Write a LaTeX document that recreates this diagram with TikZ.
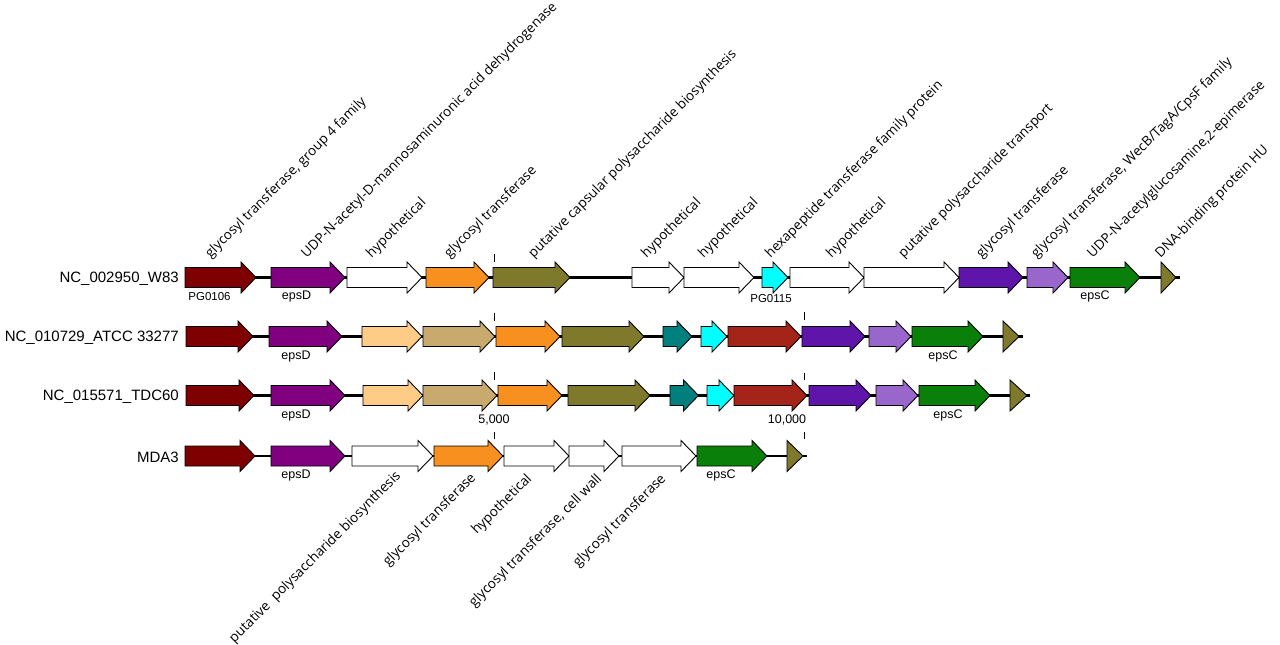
\documentclass[tikz,border=0pt]{standalone}
\usepackage{fontspec}
\setmainfont{Liberation Sans}
\newfontfamily\gfont{Open Sans}
\definecolor{cMaroon}{HTML}{7F0000}
\definecolor{cPurple}{HTML}{800080}
\definecolor{cOrange}{HTML}{F7901E}
\definecolor{cOlive}{HTML}{7F7A2B}
\definecolor{cCyan}{HTML}{00FFFF}
\definecolor{cTeal}{HTML}{007F7F}
\definecolor{cBrick}{HTML}{A5241A}
\definecolor{cDkPurple}{HTML}{5F14AA}
\definecolor{cLtPurple}{HTML}{9966CC}
\definecolor{cGreen}{HTML}{0A7F0A}
\definecolor{cPeach}{HTML}{FFCC88}
\definecolor{cTan}{HTML}{C8AA6E}
% gene arrow: x1, x2, y, colour
\newcommand\gn[4]{%
  \pgfmathsetmacro\hs{max(#1,#2-15)}%
  \draw[gene, fill=#4] (#1,#3-10) -- (\hs,#3-10) -- (\hs,#3-15.5) -- (#2,#3)
     -- (\hs,#3+15.5) -- (\hs,#3+10) -- (#1,#3+10) -- cycle;}
% triangle: x1, x2, y, colour
\newcommand\gtri[4]{%
  \draw[gene, fill=#4] (#1,#3-15.5) -- (#2,#3) -- (#1,#3+15.5) -- cycle;}
\begin{document}
\begin{tikzpicture}[x=1pt,y=-1pt,
  gene/.style={draw=black, line width=0.9pt, line join=miter},
  backbone/.style={line width=2.6pt},
  tickline/.style={line width=1pt},
  rowlabel/.style={anchor=east, inner sep=0pt, font=\fontsize{15}{18}\selectfont},
  small/.style={inner sep=0pt, font=\fontsize{12.5}{15}\selectfont},
  smaller/.style={inner sep=0pt, font=\fontsize{11.5}{14}\selectfont},
  toplab/.style={anchor=south west, rotate=45, inner sep=0pt, font=\gfont\fontsize{13.5}{16}\selectfont},
  botlab/.style={anchor=north east, rotate=45, inner sep=0pt, font=\gfont\fontsize{13.6}{16}\selectfont}]
\useasboundingbox (0,0) rectangle (1280,645);

% row labels
\node[rowlabel] (l1) at (179,279) {NC\_002950\_W83};
\node[rowlabel] (l2) at (179,338) {NC\_010729\_ATCC 33277};
\node[rowlabel] (l3) at (179,396.5) {NC\_015571\_TDC60};
\node[rowlabel] (l4) at (179,457.5) {MDA3};

% backbones
\coordinate (b1s) at (185,277.5); \coordinate (b1e) at (1179.5,277.5);
\coordinate (b2s) at (186,336.5); \coordinate (b2e) at (1023,336.5);
\coordinate (b3s) at (186,395.5); \coordinate (b3e) at (1030,395.5);
\coordinate (b4s) at (185,456);   \coordinate (b4e) at (807,456);
\draw[backbone] (b1s) -- (b1e);
\draw[backbone] (b2s) -- (b2e);
\draw[backbone] (b3s) -- (b3e);
\draw[backbone] (b4s) -- (b4e);

% row 1
\gn{185}{256}{277.5}{cMaroon}
\gn{271}{345}{277.5}{cPurple}
\gn{347}{422}{277.5}{white}
\gn{426}{489}{277.5}{cOrange}
\gn{493}{570}{277.5}{cOlive}
\gn{632}{684}{277.5}{white}
\gn{684}{754}{277.5}{white}
\gn{762}{788}{277.5}{cCyan}
\gn{790}{864}{277.5}{white}
\gn{864}{959}{277.5}{white}
\gn{959}{1023}{277.5}{cDkPurple}
\gn{1027}{1068}{277.5}{cLtPurple}
\gn{1070}{1140}{277.5}{cGreen}
\gtri{1161}{1176}{277.5}{cOlive}

% row 2
\gn{186}{253}{336.5}{cMaroon}
\gn{269}{342}{336.5}{cPurple}
\gn{362}{422}{336.5}{cPeach}
\gn{423}{495}{336.5}{cTan}
\gn{496}{560}{336.5}{cOrange}
\gn{562}{644}{336.5}{cOlive}
\gn{663}{692}{336.5}{cTeal}
\gn{701}{727}{336.5}{cCyan}
\gn{728}{801}{336.5}{cBrick}
\gn{802}{865}{336.5}{cDkPurple}
\gn{869}{911}{336.5}{cLtPurple}
\gn{912}{983}{336.5}{cGreen}
\gtri{1003}{1019}{336.5}{cOlive}

% row 3
\gn{186}{254}{395.5}{cMaroon}
\gn{271}{345}{395.5}{cPurple}
\gn{363}{423}{395.5}{cPeach}
\gn{423}{497}{395.5}{cTan}
\gn{498}{562}{395.5}{cOrange}
\gn{568}{650}{395.5}{cOlive}
\gn{670}{698.5}{395.5}{cTeal}
\gn{707}{734}{395.5}{cCyan}
\gn{734}{807}{395.5}{cBrick}
\gn{809}{871}{395.5}{cDkPurple}
\gn{876}{918}{395.5}{cLtPurple}
\gn{919}{990}{395.5}{cGreen}
\gtri{1010}{1027}{395.5}{cOlive}

% row 4
\gn{185}{255}{456}{cMaroon}
\gn{271}{345}{456}{cPurple}
\gn{352}{433}{456}{white}
\gn{434}{503}{456}{cOrange}
\gn{504}{569}{456}{white}
\gn{569}{619}{456}{white}
\gn{622}{696}{456}{white}
\gn{697}{767}{456}{cGreen}
\gtri{787}{803}{456}{cOlive}

% scale ticks
\coordinate (t1a) at (494.5,254); \coordinate (t1b) at (494.5,262);
\coordinate (t2a) at (494.5,313); \coordinate (t2b) at (494.5,320.5);
\coordinate (t3a) at (494.5,372); \coordinate (t3b) at (494.5,380);
\coordinate (t4a) at (494.5,431.5); \coordinate (t4b) at (494.5,439);
\coordinate (u2a) at (804,312); \coordinate (u2b) at (804,320);
\coordinate (u3a) at (804,372.5); \coordinate (u3b) at (804,380);
\coordinate (u4a) at (804,431.5); \coordinate (u4b) at (804,439);
\draw[tickline] (t1a) -- (t1b);
\draw[tickline] (t2a) -- (t2b);
\draw[tickline] (t3a) -- (t3b);
\draw[tickline] (t4a) -- (t4b);
\draw[tickline] (u2a) -- (u2b);
\draw[tickline] (u3a) -- (u3b);
\draw[tickline] (u4a) -- (u4b);
\node[small] (s5) at (494,419.5) {5,000};
\node[small] (s10) at (787,419.5) {10,000};

% small gene labels
\node[smaller] (pg106) at (209.5,296.5) {PG0106};
\node[small] (ed1) at (296.5,296.5) {epsD};
\node[smaller] (pg115) at (771,299) {PG0115};
\node[small] (ec1) at (1095,296.5) {epsC};
\node[small] (ed2) at (296,356) {epsD};
\node[small] (ec2) at (943,356) {epsC};
\node[small] (ed3) at (296,415) {epsD};
\node[small] (ec3) at (948,415) {epsC};
\node[small] (ed4) at (296,475) {epsD};
\node[small] (ec4) at (721,475) {epsC};

% top rotated labels
\node[toplab] (a1) at (213,261) {glycosyl transferase, group 4 family};
\node[toplab] (a2) at (309,261) {UDP-N-acetyl-D-mannosaminuronic acid dehydrogenase};
\node[toplab] (a3) at (374,261) {hypothetical};
\node[toplab] (a4) at (452,261) {glycosyl transferase};
\node[toplab] (a5) at (536,261) {putative capsular polysaccharide biosynthesis};
\node[toplab] (a6) at (649,261) {hypothetical};
\node[toplab] (a7) at (706,261) {hypothetical};
\node[toplab] (a8) at (773,261) {hexapeptide transferase family protein};
\node[toplab] (a9) at (834,261) {hypothetical};
\node[toplab] (a10) at (906,261) {putative polysaccharide transport};
\node[toplab] (a11) at (984,261) {glycosyl transferase};
\node[toplab] (a12) at (1039,261) {glycosyl transferase, WecB/TagA/CpsF family};
\node[toplab] (a13) at (1095,261) {UDP-N-acetylglucosamine,2-epimerase};
\node[toplab] (a14) at (1163,261) {DNA-binding protein HU};

% bottom rotated labels
\node[botlab] (c1) at (394,469) {putative~ polysaccharide biosynthesis};
\node[botlab] (c2) at (469,471) {glycosyl transferase};
\node[botlab] (c3) at (525,472) {hypothetical};
\node[botlab] (c4) at (595,472) {glycosyl transferase, cell wall};
\node[botlab] (c5) at (659,472) {glycosyl transferase};
\end{tikzpicture}
\end{document}
